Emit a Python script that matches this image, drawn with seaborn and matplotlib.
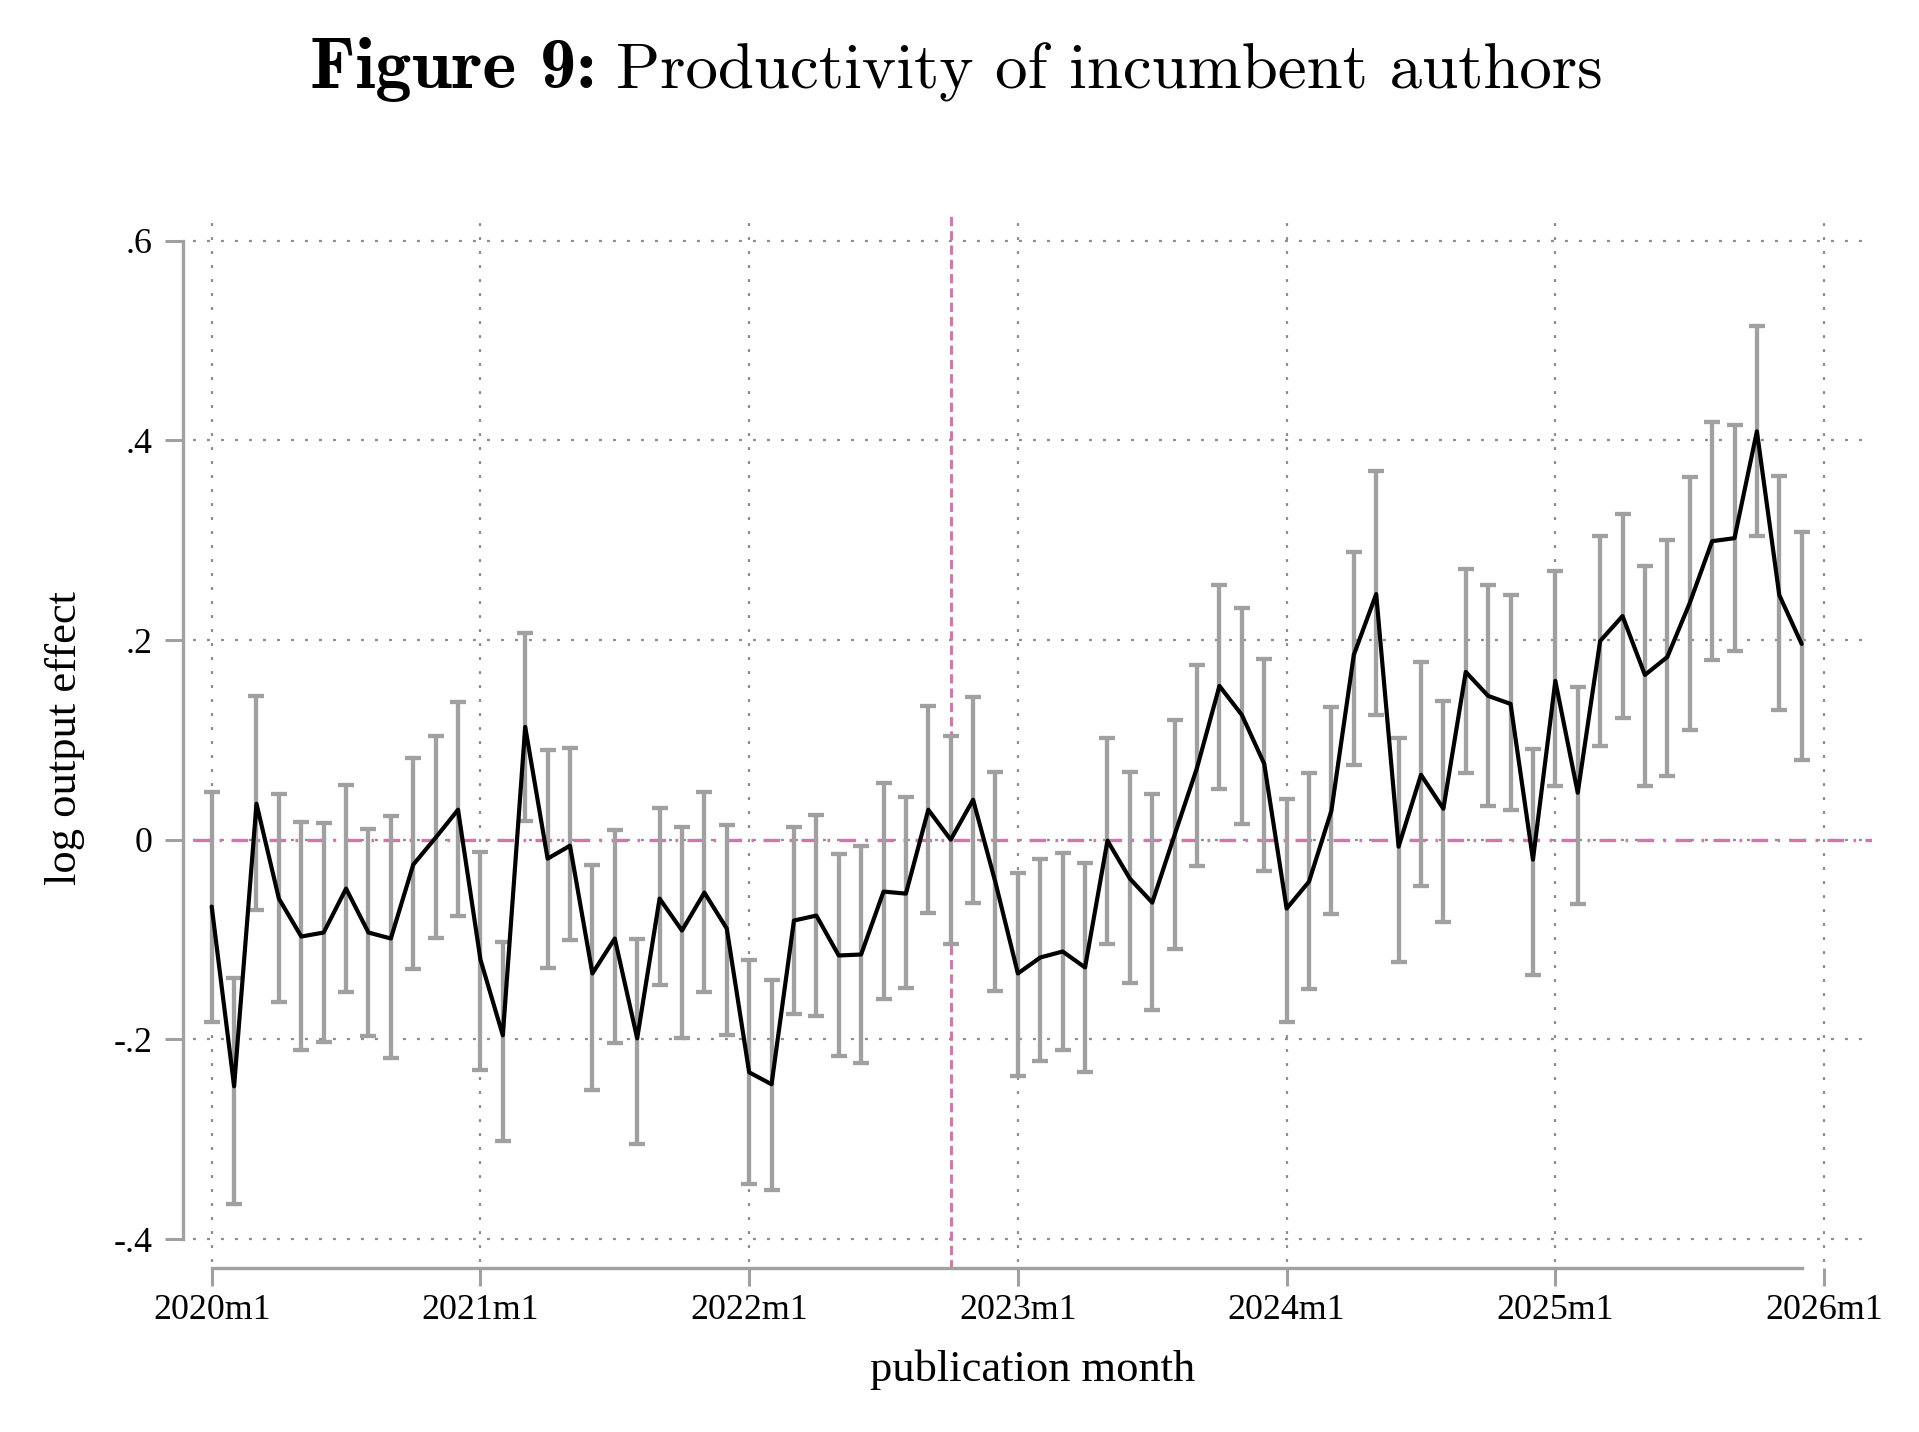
import matplotlib
matplotlib.use("Agg")
import matplotlib.pyplot as plt
import seaborn as sns
import numpy as np
import pandas as pd

# ---------------- data ----------------
month_index = list(range(72))  # 0 = 2020m1 ... 71 = 2025m12

coef = [
    -0.067, -0.247, 0.036, -0.059, -0.097, -0.093, -0.049, -0.093, -0.099, -0.025, 0.002, 0.030,
    -0.120, -0.196, 0.113, -0.019, -0.006, -0.134, -0.099, -0.199, -0.059, -0.091, -0.053, -0.089,
    -0.233, -0.245, -0.081, -0.076, -0.116, -0.115, -0.052, -0.054, 0.030, 0.000, 0.040, -0.043,
    -0.134, -0.118, -0.112, -0.128, -0.001, -0.039, -0.063, 0.005, 0.072, 0.154, 0.125, 0.076,
    -0.069, -0.042, 0.029, 0.185, 0.246, -0.007, 0.065, 0.031, 0.168, 0.144, 0.136, -0.020,
    0.159, 0.047, 0.199, 0.224, 0.165, 0.183, 0.237, 0.299, 0.302, 0.409, 0.245, 0.196,
]
ci_hi = [
    0.048, -0.139, 0.144, 0.046, 0.018, 0.017, 0.055, 0.011, 0.024, 0.082, 0.104, 0.138,
    -0.012, -0.102, 0.207, 0.090, 0.092, -0.025, 0.010, -0.099, 0.032, 0.013, 0.048, 0.015,
    -0.121, -0.141, 0.013, 0.025, -0.014, -0.006, 0.057, 0.043, 0.134, 0.104, 0.143, 0.068,
    -0.033, -0.019, -0.013, -0.023, 0.102, 0.068, 0.046, 0.120, 0.175, 0.255, 0.232, 0.181,
    0.041, 0.067, 0.133, 0.288, 0.369, 0.102, 0.178, 0.139, 0.271, 0.255, 0.245, 0.091,
    0.269, 0.153, 0.304, 0.326, 0.274, 0.300, 0.363, 0.418, 0.415, 0.515, 0.364, 0.308,
]
ci_lo = [
    -0.183, -0.365, -0.070, -0.163, -0.211, -0.203, -0.153, -0.197, -0.219, -0.130, -0.098, -0.076,
    -0.231, -0.302, 0.019, -0.129, -0.100, -0.251, -0.204, -0.305, -0.146, -0.199, -0.153, -0.196,
    -0.345, -0.351, -0.175, -0.177, -0.217, -0.224, -0.160, -0.149, -0.073, -0.104, -0.063, -0.152,
    -0.237, -0.222, -0.211, -0.233, -0.104, -0.144, -0.171, -0.109, -0.026, 0.051, 0.016, -0.031,
    -0.183, -0.150, -0.074, 0.075, 0.125, -0.123, -0.046, -0.082, 0.067, 0.034, 0.030, -0.136,
    0.054, -0.064, 0.094, 0.122, 0.054, 0.064, 0.110, 0.180, 0.189, 0.304, 0.130, 0.080,
]

x_tick_pos = [0, 12, 24, 36, 48, 60, 72]
x_tick_labels = ["2020m1", "2021m1", "2022m1", "2023m1", "2024m1", "2025m1", "2026m1"]
y_tick_pos = [0.6, 0.4, 0.2, 0.0, -0.2, -0.4]
y_tick_labels = [".6", ".4", ".2", "0", "-.2", "-.4"]
event_month = 33  # 2022m10

df = pd.DataFrame({"month": month_index, "coef": coef, "lo": ci_lo, "hi": ci_hi})

# ---------------- style ----------------
sns.set_style("white")
plt.rcParams["font.family"] = ["Liberation Serif", "DejaVu Serif"]
plt.rcParams["text.color"] = "black"
plt.rcParams["axes.labelcolor"] = "black"

GREY = "#a0a0a0"
PINK = "#cc79a7"

fig = plt.figure(figsize=(19.19, 14.32), dpi=100)
ax = fig.add_axes([193 / 1919, 1 - 1262 / 1432, (1872 - 193) / 1919, (1262 - 215) / 1432])

# grid
ax.set_xticks(x_tick_pos)
ax.set_yticks(y_tick_pos)
ax.grid(True, color="#8c8c8c", linestyle=(0, (1.3, 5.0)), linewidth=1.6, zorder=0)
ax.set_axisbelow(True)

# reference lines
ax.axhline(0, color=PINK, linewidth=2.4, linestyle=(0, (5.0, 2.8, 0.8, 2.8)), zorder=1)
ax.axvline(event_month, ymin=-0.007, ymax=1.0, color=PINK, linewidth=2.1,
           linestyle=(0, (3.2, 1.7)), zorder=1, clip_on=False)

# confidence intervals
ax.errorbar(df["month"], df["coef"],
            yerr=[df["coef"] - df["lo"], df["hi"] - df["coef"]],
            fmt="none", ecolor=GREY, elinewidth=3.1, capsize=6, capthick=3.1, zorder=2)

# point estimates
sns.lineplot(data=df, x="month", y="coef", color="black", linewidth=3.0,
             errorbar=None, ax=ax, zorder=3)

ax.set_xlim(-0.835, 74.14)
ax.set_ylim(-0.423, 0.6257)
ax.set_xticklabels(x_tick_labels)
ax.set_yticklabels(y_tick_labels)

# spines Stata-like
for s in ["top", "right"]:
    ax.spines[s].set_visible(False)
ax.spines["left"].set_bounds(-0.4, 0.6)
ax.spines["left"].set_position(("outward", 7.4))
ax.spines["bottom"].set_bounds(0, 71)
ax.spines["bottom"].set_position(("outward", 4.3))
for s in ["left", "bottom"]:
    ax.spines[s].set_color(GREY)
    ax.spines[s].set_linewidth(2.4)

ax.tick_params(axis="both", direction="out", length=13, width=2.2, color=GREY,
               labelsize=25.8, labelcolor="black", bottom=True, left=True)
ax.tick_params(axis="y", pad=8.5)
ax.tick_params(axis="x", pad=6)

ax.set_xlabel("publication month", fontsize=32, labelpad=16, color="black")
ax.set_ylabel("log output effect", fontsize=32, labelpad=21, color="black")

# title
fig.text(596 / 1919, 1 - 88 / 1432, "Figure 9:", fontfamily="cmb10", fontsize=52,
         ha="right", va="baseline", color="black")
fig.text(616 / 1919, 1 - 88 / 1432, "Productivity of incumbent authors", fontfamily="cmr10",
         fontsize=46.8, ha="left", va="baseline", color="black")

fig.savefig("out.png", dpi=100)
